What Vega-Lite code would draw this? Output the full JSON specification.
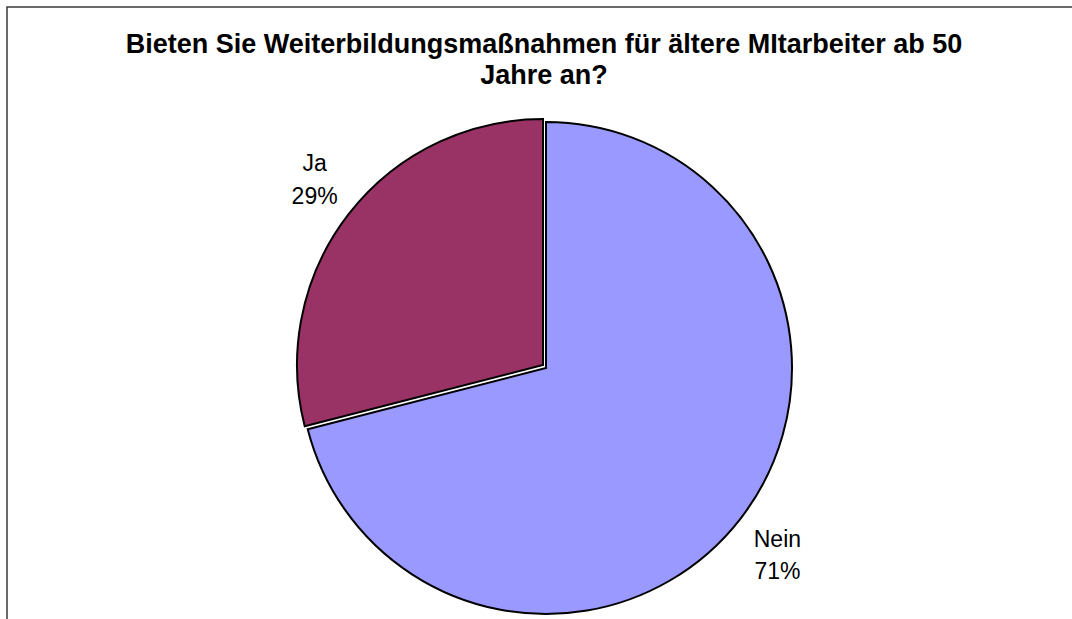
{
  "$schema": "https://vega.github.io/schema/vega-lite/v6.json",
  "width": 1078,
  "height": 722,
  "autosize": {"type": "none"},
  "padding": {"left": 7, "top": 7, "right": -13, "bottom": -110},
  "background": "white",
  "view": {"stroke": "#3a3a3a", "strokeWidth": 1.5, "fill": "white"},
  "config": {
    "font": "Liberation Sans"
  },
  "title": {
    "text": ["Bieten Sie Weiterbildungsmaßnahmen für ältere MItarbeiter ab 50", "Jahre an?"],
    "orient": "top",
    "anchor": "middle",
    "frame": "group",
    "offset": -83,
    "dx": -2,
    "font": "Liberation Sans",
    "fontSize": 27,
    "fontWeight": "bold",
    "lineHeight": 31,
    "color": "#000000"
  },
  "data": {
    "values": [
      {"Antwort": "Nein", "Anteil": 0.71},
      {"Antwort": "Ja", "Anteil": 0.29}
    ]
  },
  "encoding": {
    "theta": {"field": "Anteil", "type": "quantitative", "stack": true},
    "order": {"field": "Antwort", "sort": "descending"}
  },
  "layer": [
    {
      "mark": {"type": "arc", "outerRadius": 246, "stroke": "#000000", "strokeWidth": 2},
      "encoding": {
        "color": {"field": "Antwort", "type": "nominal", "scale": {"domain": ["Nein", "Ja"], "range": ["#9999FF", "#993366"]}, "legend": null},
        "opacity": {"condition": {"test": "datum.Antwort === 'Ja'", "value": 0}, "value": 1}
      }
    },
    {
      "mark": {"type": "arc", "outerRadius": 246, "stroke": "#000000", "strokeWidth": 2, "xOffset": -3, "yOffset": -3},
      "encoding": {
        "color": {"field": "Antwort", "type": "nominal", "scale": {"domain": ["Nein", "Ja"], "range": ["#9999FF", "#993366"]}, "legend": null},
        "opacity": {"condition": {"test": "datum.Antwort === 'Ja'", "value": 1}, "value": 0}
      }
    },
    {
      "mark": {"type": "text", "radius": 298, "thetaOffset": 0.022, "fontSize": 23, "dy": -16, "align": "center", "baseline": "middle", "color": "#000000"},
      "encoding": {
        "detail": {"field": "Antwort", "type": "nominal"},
        "text": {"field": "Antwort", "type": "nominal"}
      }
    },
    {
      "mark": {"type": "text", "radius": 298, "thetaOffset": 0.022, "fontSize": 23, "dy": 16.5, "align": "center", "baseline": "middle", "color": "#000000"},
      "encoding": {
        "detail": {"field": "Antwort", "type": "nominal"},
        "text": {"field": "Anteil", "type": "quantitative", "format": ".0%"}
      }
    }
  ]
}
